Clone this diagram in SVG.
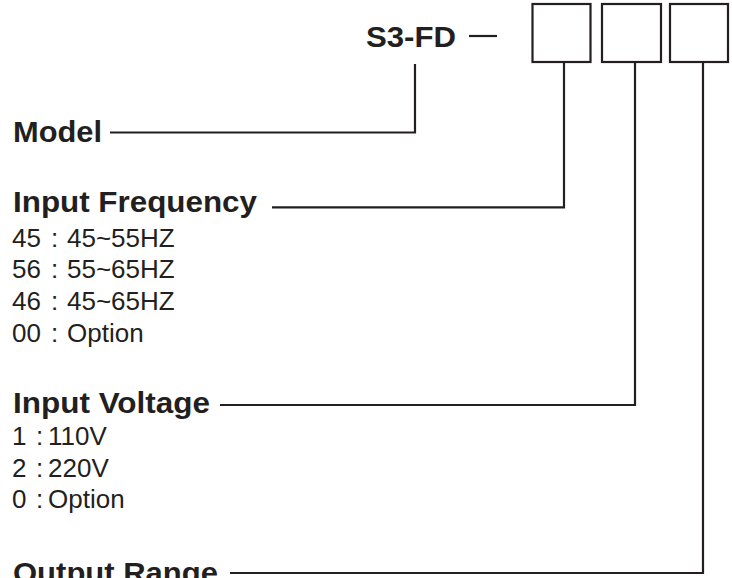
<svg xmlns="http://www.w3.org/2000/svg" width="732" height="578" viewBox="0 0 732 578">
<style>
.h{font-family:"Liberation Sans",Arial,sans-serif;font-weight:bold;font-size:29px;fill:#231f20}
.t{font-family:"Liberation Sans",Arial,sans-serif;font-size:26px;fill:#231f20}
.ln{fill:none;stroke:#231f20;stroke-width:2.2}
.box{fill:#fff;stroke:#231f20;stroke-width:2.2}
</style>
<rect width="732" height="578" fill="#fff"/>
<g id="code">
<text class="h" x="366" y="46.5" font-size="26" textLength="90" lengthAdjust="spacingAndGlyphs">S3-FD</text>
<line class="ln" x1="469" y1="36" x2="497" y2="36" stroke-width="1.6"/>
</g>
<g id="box1"><rect class="box" x="532.5" y="4" width="58" height="58"/></g>
<g id="box2"><rect class="box" x="602" y="4" width="59" height="58"/></g>
<g id="box3"><rect class="box" x="670" y="4" width="58" height="58"/></g>
<g id="model"><text class="h" x="13" y="141.7" textLength="89" lengthAdjust="spacingAndGlyphs">Model</text></g>
<g id="freq">
<text class="h" x="13" y="211.7" textLength="244" lengthAdjust="spacingAndGlyphs">Input Frequency</text>
<text class="t" y="246.7"><tspan x="12">45</tspan> <tspan x="51">:</tspan><tspan x="67">45~55HZ</tspan></text>
<text class="t" y="278.3"><tspan x="12">56</tspan> <tspan x="51">:</tspan><tspan x="67">55~65HZ</tspan></text>
<text class="t" y="310"><tspan x="12">46</tspan> <tspan x="51">:</tspan><tspan x="67">45~65HZ</tspan></text>
<text class="t" y="341.7"><tspan x="12">00</tspan> <tspan x="51">:</tspan><tspan x="67">Option</tspan></text>
</g>
<g id="voltage">
<text class="h" x="13" y="413.3" textLength="197" lengthAdjust="spacingAndGlyphs">Input Voltage</text>
<text class="t" y="445"><tspan x="12">1</tspan> <tspan x="36">:</tspan><tspan x="48">110V</tspan></text>
<text class="t" y="476.7"><tspan x="12">2</tspan> <tspan x="36">:</tspan><tspan x="48">220V</tspan></text>
<text class="t" y="508.3"><tspan x="12">0</tspan> <tspan x="36">:</tspan><tspan x="48">Option</tspan></text>
</g>
<g id="output"><text class="h" x="13" y="583" textLength="205" lengthAdjust="spacingAndGlyphs">Output Range</text></g>
<g id="connectors">
<polyline class="ln" points="110,132.5 415,132.5 415,64"/>
<polyline class="ln" points="272,207.3 564,207.3 564,62"/>
<polyline class="ln" points="220,405 635,405 635,62"/>
<polyline class="ln" points="230,573 703,573 703,62"/>
</g>
</svg>
